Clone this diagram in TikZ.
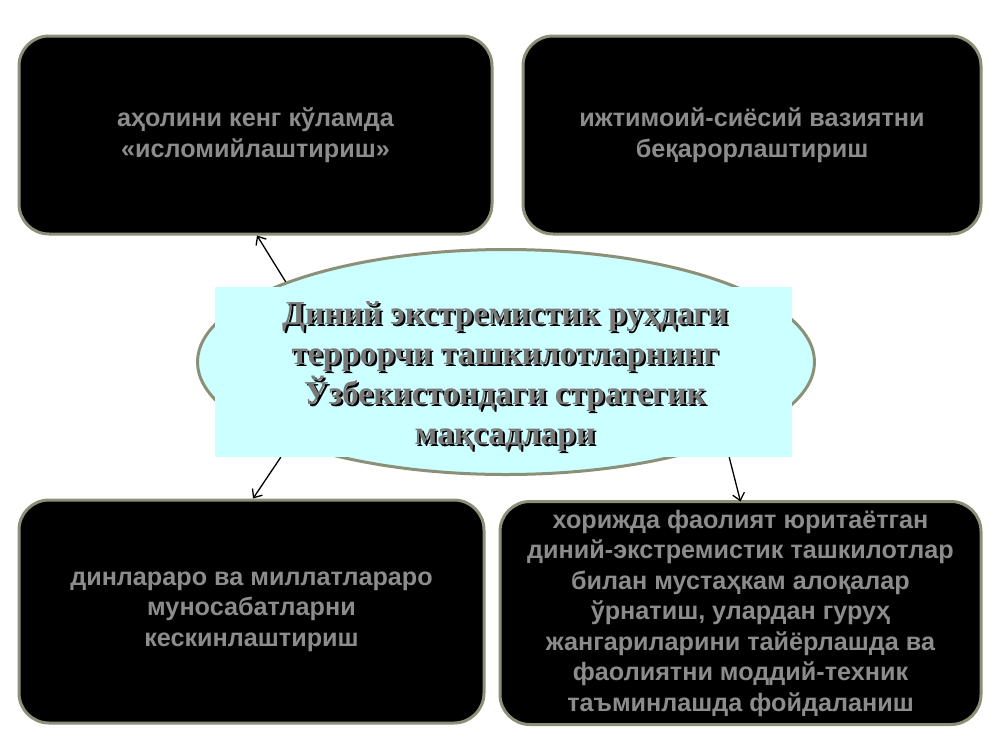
\documentclass[tikz,border=0pt]{standalone}
\usepackage{fontspec}
\setmainfont{Liberation Serif}
\newfontfamily\boxfont{Liberation Sans}
\usepackage{tikz}
\usetikzlibrary{shapes.geometric, arrows.meta}
\definecolor{BoxLine}{HTML}{8C9078}
\definecolor{BoxText}{HTML}{8C8C8C}
\definecolor{PaleCyan}{HTML}{CCFFFF}
\definecolor{TitleGrey}{HTML}{787878}

\tikzset{
	goalbox/.style={draw=BoxLine, line width=3pt, fill=black, rounded corners=30pt, text=BoxText, align=center, inner sep=0pt, font=\boxfont\bfseries\fontsize{25.2}{30.5}\selectfont},
	titlefont/.style={align=center, inner sep=0pt, font=\bfseries\fontsize{33.4}{40}\selectfont},
	goalarrow/.style={-{Straight Barb[length=7pt, width=12pt]}, line width=1.3pt}
}

\begin{document}
\begin{tikzpicture}[x=1pt, y=-1pt]
				\useasboundingbox[fill=white] (0,0) rectangle (1000,750);

				% four goals
				\node[goalbox, minimum width=473pt, minimum height=198pt] (islam) at (255.5,135) {аҳолини кенг кўламда\\«исломийлаштириш»};
				\node[goalbox, minimum width=458pt, minimum height=198pt] (unrest) at (752,135) {ижтимоий-сиёсий вазиятни\\беқарорлаштириш};
				\node[goalbox, minimum width=465pt, minimum height=223pt] (relations) at (251.5,611.5) {динлараро ва миллатлараро\\муносабатларни\\кескинлаштириш};
				\node[goalbox, minimum width=481pt, minimum height=223pt] (links) at (740.5,613) {хорижда фаолият юритаётган\\диний-экстремистик ташкилотлар\\билан мустаҳкам алоқалар\\ўрнатиш, улардан гуруҳ\\жангариларини тайёрлашда ва\\фаолиятни моддий-техник\\таъминлашда фойдаланиш};

				% centre
				\node[ellipse, draw=BoxLine, line width=3pt, fill=PaleCyan, minimum width=617pt, minimum height=225pt] (goal) at (506,362) {};
				\node[rectangle, fill=PaleCyan, minimum width=577pt, minimum height=170pt] (titlebox) at (503.5,372) {};
				\node[titlefont, text=black] (shadow) at (507,379) {Диний экстремистик руҳдаги\\террорчи ташкилотларнинг\\Ўзбекистондаги стратегик\\мақсадлари};
				\node[titlefont, text=TitleGrey] (title) at (505,377) {Диний экстремистик руҳдаги\\террорчи ташкилотларнинг\\Ўзбекистондаги стратегик\\мақсадлари};

				\draw[goalarrow] (goal.160) -- ([xshift=1.5pt]islam.south);
				\draw[goalarrow] ([xshift=66pt]titlebox.south west) -- ([xshift=1.5pt]relations.north);
				\draw[goalarrow] ([xshift=-63pt]titlebox.south east) -- ([yshift=-1.5pt]links.north);

			\end{tikzpicture}
\end{document}
